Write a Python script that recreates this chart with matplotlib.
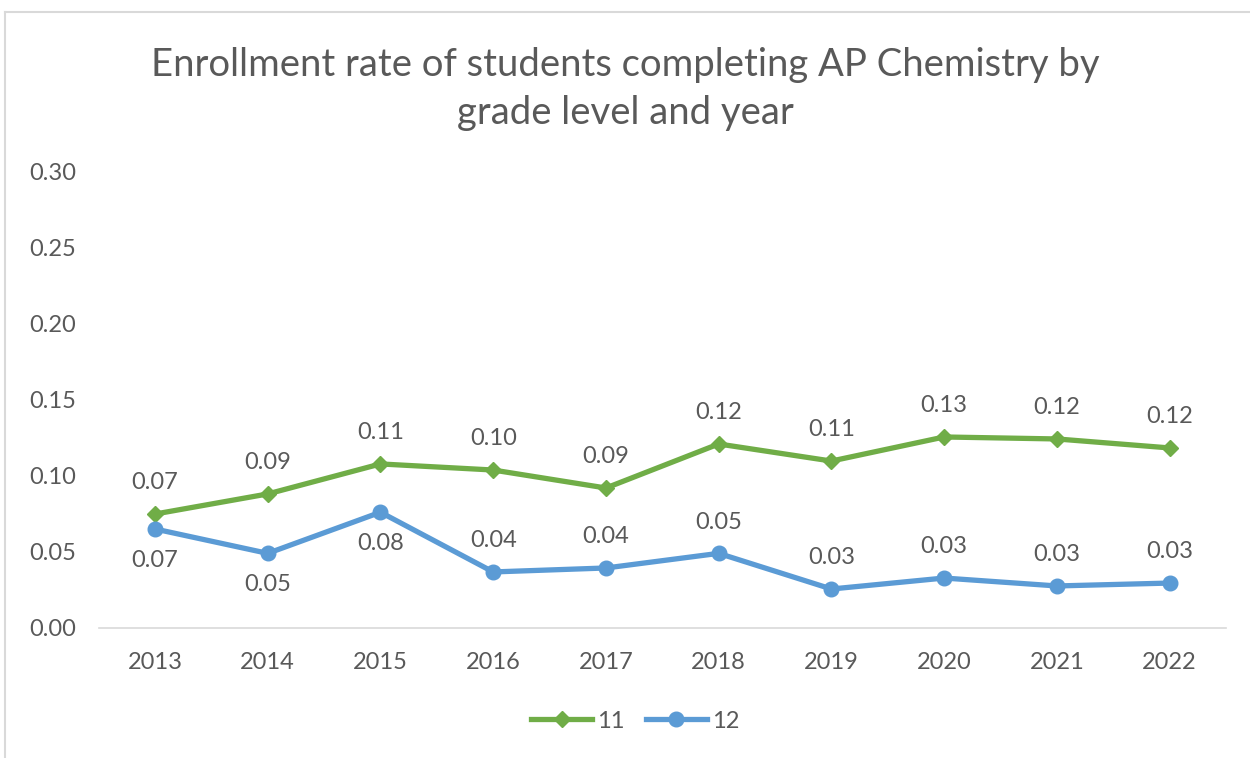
import matplotlib
matplotlib.use("Agg")
import matplotlib.pyplot as plt
from matplotlib.lines import Line2D

years = ["2013", "2014", "2015", "2016", "2017", "2018", "2019", "2020", "2021", "2022"]
grade11 = [0.0748, 0.088, 0.1077, 0.1037, 0.0919, 0.1208, 0.1096, 0.1254, 0.1241, 0.1182]
grade12 = [0.065, 0.049, 0.076, 0.0368, 0.0394, 0.049, 0.0256, 0.0328, 0.0276, 0.0295]
labels11 = ["0.07", "0.09", "0.11", "0.10", "0.09", "0.12", "0.11", "0.13", "0.12", "0.12"]
labels12 = ["0.07", "0.05", "0.08", "0.04", "0.04", "0.05", "0.03", "0.03", "0.03", "0.03"]
below12 = [True, True, True, False, False, False, False, False, False, False]
yticks = [0.00, 0.05, 0.10, 0.15, 0.20, 0.25, 0.30]

plt.rcParams['font.family'] = ['Lato', 'DejaVu Sans']
W, H = 1250, 758
fig = plt.figure(figsize=(W/100, H/100), dpi=100)
ax = fig.add_axes([98.6/W, 1-628/H, (1226-98.6)/W, (628-171)/H])

x = list(range(len(years)))
green = '#70AD47'
blue = '#5B9BD5'
txt = '#595959'
ax.plot(x, grade11, color=green, lw=3.8, marker='D', ms=8, solid_capstyle='round', zorder=3, label='11')
ax.plot(x, grade12, color=blue, lw=3.8, marker='o', ms=10.5, solid_capstyle='round', zorder=3, label='12')

fs = 17
for i in x:
    ax.annotate(labels11[i], (i, grade11[i]), xytext=(0, 15), textcoords='offset points',
                ha='center', va='bottom', fontsize=fs, color=txt)
    if below12[i]:
        ax.annotate(labels12[i], (i, grade12[i]), xytext=(0, -15), textcoords='offset points',
                    ha='center', va='top', fontsize=fs, color=txt)
    else:
        ax.annotate(labels12[i], (i, grade12[i]), xytext=(0, 15), textcoords='offset points',
                    ha='center', va='bottom', fontsize=fs, color=txt)

ax.set_xlim(-0.5, len(years) - 0.5)
ax.set_ylim(0, 0.30)
ax.set_xticks(x)
ax.set_xticklabels(years)
ax.set_yticks(yticks)
ax.set_yticklabels([f"{v:.2f}" for v in yticks])
ax.tick_params(axis='both', length=0, labelsize=fs, colors=txt)
ax.tick_params(axis='x', pad=17)
ax.tick_params(axis='y', pad=16)
for s in ['top', 'right', 'left']:
    ax.spines[s].set_visible(False)
ax.spines['bottom'].set_color('#D9D9D9')
ax.spines['bottom'].set_linewidth(1.2)

fig.text(0.5, 1-89/H, "Enrollment rate of students completing AP Chemistry by\ngrade level and year",
         ha='center', va='center', fontsize=27.5, color=txt, linespacing=1.42)

handles = [Line2D([], [], color=green, lw=3.8, marker='D', ms=8),
           Line2D([], [], color=blue, lw=3.8, marker='o', ms=10.5)]
fig.legend(handles, ['11', '12'], loc='center', bbox_to_anchor=(635/W, 1-721/H), ncol=2,
           frameon=False, fontsize=fs, labelcolor=txt, handlelength=2.6, handletextpad=0.2,
           columnspacing=0.9)

# chart frame
fig.add_artist(Line2D([5/W, 1], [1-12/H, 1-12/H], transform=fig.transFigure, color='#D9D9D9', lw=1.5))
fig.add_artist(Line2D([5/W, 5/W], [1-12/H, 0], transform=fig.transFigure, color='#D9D9D9', lw=1.5))

fig.savefig('out.png', dpi=100, facecolor='white')
